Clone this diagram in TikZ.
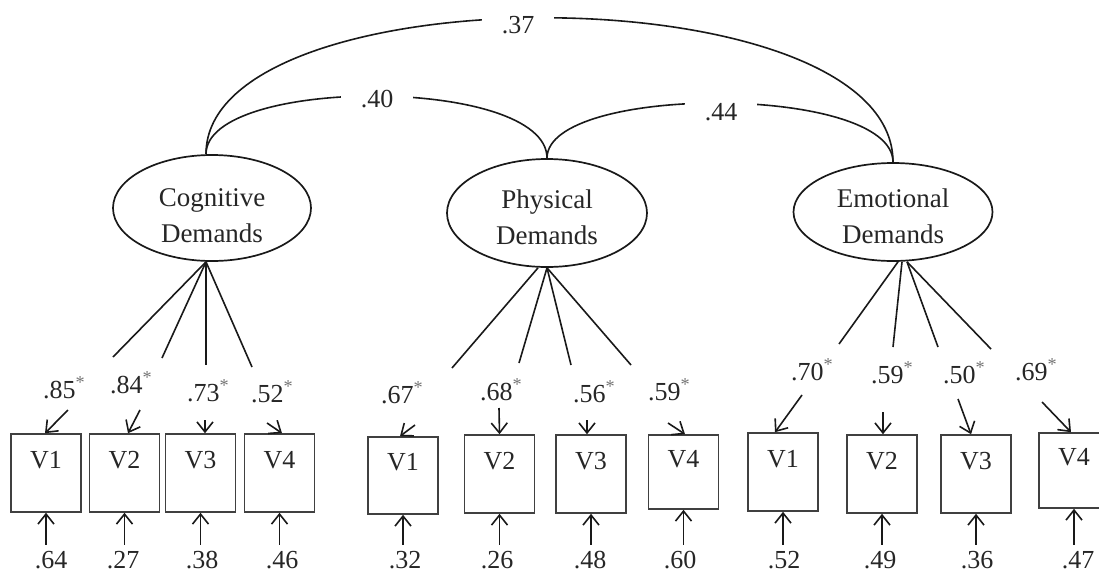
\documentclass[tikz,border=0pt]{standalone}
\usepackage{fontspec}
\setmainfont{Liberation Serif}
\usetikzlibrary{arrows.meta,shapes.geometric,calc}
\begin{document}
\begin{tikzpicture}[x=1pt,y=-1pt,
  every node/.style={text=black!85},
  ln/.style={line width=1.6pt, draw=black!90},
  arr/.style={ln, -{Straight Barb[length=10pt,width=16pt]}},
  fac/.style={draw=black!90, line width=1.7pt, ellipse, inner sep=0pt},
  facname/.style={align=center, font=\fontsize{27}{36}\selectfont, inner sep=0pt},
  vbox/.style={draw=black!75, line width=1.6pt, minimum width=70pt, inner sep=0pt,
    font=\fontsize{26}{30}\selectfont, text height=18pt, text depth=28pt},
  num/.style={font=\fontsize{26}{30}\selectfont, inner sep=0pt, anchor=base},
  cov/.style={num, fill=white, inner xsep=20pt, inner ysep=8pt},
]
\useasboundingbox (0,0) rectangle (1099,573);
\clip (0,0) rectangle (1099,573);

% factors
\node[fac, minimum width=198pt, minimum height=106pt] (cog) at (212,208) {};
\node[facname] (cogt) at (212,216) {Cognitive\\Demands};
\node[fac, minimum width=200pt, minimum height=108pt] (phy) at (547,213) {};
\node[facname] (phyt) at (547,217.5) {Physical\\Demands};
\node[fac, minimum width=199pt, minimum height=98pt] (emo) at (893,212) {};
\node[facname] (emot) at (893,216) {Emotional\\Demands};

% covariances
\draw[ln] ([xshift=-6pt]cog.north) .. controls (206,-29) and (893,-29) .. (emo.north);
\draw[ln] ([xshift=-6pt]cog.north) .. controls (206,76) and (547,76) .. (phy.north);
\draw[ln] (phy.north) .. controls (547,84) and (893,84) .. (emo.north);
\node[cov] (k37) at (518,33) {.37};
\node[cov] (k40) at (377,107) {.40};
\node[cov] (k44) at (721,120) {.44};

% indicator boxes
\node[vbox, minimum height=78pt] (c1) at (46,473) {V1};
\node[vbox, minimum height=78pt] (c2) at (124.5,473) {V2};
\node[vbox, minimum height=78pt] (c3) at (200.5,473) {V3};
\node[vbox, minimum height=78pt] (c4) at (279.5,473) {V4};
\node[vbox, minimum height=77pt] (p1) at (403,475.5) {V1};
\node[vbox, minimum height=78pt] (p2) at (499.5,474) {V2};
\node[vbox, minimum height=78pt] (p3) at (591,474) {V3};
\node[vbox, minimum height=74pt] (p4) at (683.5,472) {V4};
\node[vbox, minimum height=78pt] (e1) at (783,472) {V1};
\node[vbox, minimum height=78pt] (e2) at (882,474) {V2};
\node[vbox, minimum height=78pt] (e3) at (976,474) {V3};
\node[vbox, minimum height=75pt] (e4) at (1074,470.5) {V4};

% loadings and residuals
\foreach \b/\f/\sx/\ex/\ey/\ax/\ay/\tx/\lx/\ly/\lab/\rx/\rlab in {
  c1/cog/-6/113/357/68/410/-1/59/398/.85/51/.64,
  c2/cog/-6/162/358/140/410/3.5/126/393/.84/123/.27,
  c3/cog/-6/206/365/205/420/4.5/203/401/.73/202/.38,
  c4/cog/-6/252/367/267/423/2.5/267/402/.52/282/.46,
  p1/phy/-9/452/368/415/425/-3/397/403/.67/405/.32,
  p2/phy/0/519/363/499/408/0/496/400/.68/497/.26,
  p3/phy/0/571/365/587/420/-4/589/402/.56/590/.48,
  p4/phy/0/631/365/668/423/1.5/664/400/.59/680/.60,
  e1/emo/5/839/344/802/395/-8/807/380/.70/784/.52,
  e2/emo/9/893/347/883/412/1/887/383/.59/880/.49,
  e3/emo/14/938/347/958/399/-5/959/383/.50/977/.36,
  e4/emo/14/991/349/1042/402/-3/1031/380/.69/1078/.47}{
  \draw[ln] ([xshift=\sx pt]\f.south) -- (\ex,\ey) coordinate (e\b);
  \draw[arr] (\ax,\ay) coordinate (a\b) -- ([xshift=\tx pt]\b.north);
  \node[num, anchor=base west] (l\b) at (\lx-16,\ly) {\lab\textsuperscript{\color{black!55}*}};
  \node[num] (r\b) at (\rx,568) {\rlab};
  \draw[arr, shorten <=6pt] (\b.south |- r\b.north) -- (\b.south);
}
\end{tikzpicture}
\end{document}
